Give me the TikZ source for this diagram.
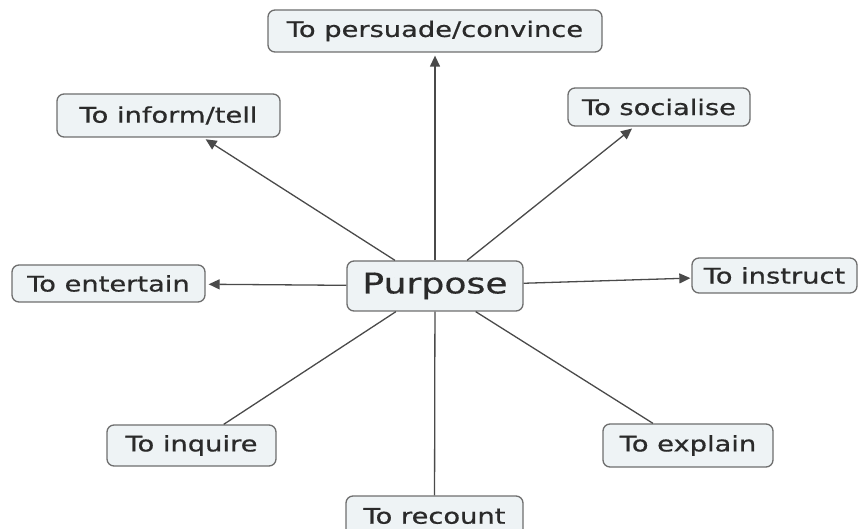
\documentclass[tikz,border=0pt]{standalone}
\usepackage{fontspec}
\setmainfont[FakeStretch=1.27,FakeBold=0.6]{DejaVu Sans}
\usetikzlibrary{arrows.meta}
\definecolor{boxfill}{HTML}{EEF3F5}
\definecolor{boxline}{HTML}{6E6E6E}
\definecolor{txt}{HTML}{2A2A2A}
\definecolor{conn}{HTML}{4A4A4A}
\tikzset{
  box/.style={draw=boxline, fill=boxfill, rounded corners=7pt, line width=1.3pt,
    text=txt, font=\fontsize{21.5}{22}\selectfont, inner sep=0pt},
  link/.style={draw=conn, line width=1.3pt},
  arr/.style={link, -{Triangle[length=11pt,width=10pt]}, shorten >=3pt}
}
\begin{document}
\begin{tikzpicture}[x=1pt,y=-1pt]
\useasboundingbox (0,0) rectangle (860,529);
\node[box, minimum width=176pt, minimum height=50pt, font=\fontsize{28.5}{29}\selectfont] (p) at (435,286) {Purpose};
\node[box, minimum width=334pt, minimum height=42pt] (pc) at (435,31) {To persuade/convince};
\node[box, minimum width=223pt, minimum height=43pt] (it) at (168.5,115.5) {To inform/tell};
\node[box, minimum width=182pt, minimum height=38pt] (so) at (659,107) {To socialise};
\node[box, minimum width=193pt, minimum height=37pt] (en) at (108.5,283.5) {To entertain};
\node[box, minimum width=165pt, minimum height=35pt] (in) at (774.5,275.5) {To instruct};
\node[box, minimum width=169pt, minimum height=41pt] (iq) at (191.5,445.5) {To inquire};
\node[box, minimum width=170pt, minimum height=43pt] (ex) at (688,445.5) {To explain};
\node[box, minimum width=177pt, minimum height=40pt] (rc) at (434.5,516) {To recount};
\draw[arr] (p) -- (pc);
\draw[arr] (p) -- (it);
\draw[arr] (p) -- (so);
\draw[arr] (p) -- (en);
\draw[arr, shorten >=1pt] (p) -- (in);
\draw[link] (p) -- (iq);
\draw[link] (p) -- (ex);
\draw[link] (p) -- (rc);
\end{tikzpicture}
\end{document}
